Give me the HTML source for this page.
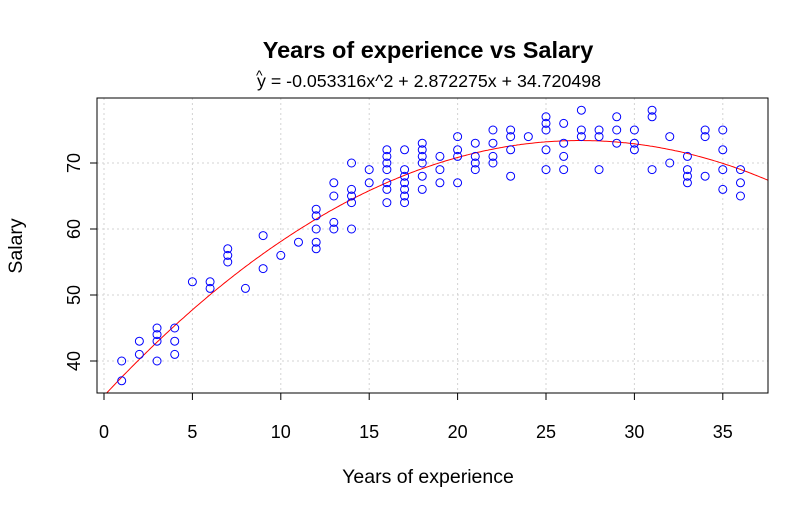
<!DOCTYPE html>
<html><head><meta charset="utf-8"><style>
body{margin:0;background:#fff;}
svg{display:block;font-family:"Liberation Sans",Arial,sans-serif;}
</style></head><body>
<svg id="chart" width="812" height="515" viewBox="0 0 812 515">
<rect width="812" height="515" fill="#fff"/>
<text x="428" y="58" text-anchor="middle" font-size="23.5" font-weight="bold">Years of experience vs Salary</text>
<text x="429" y="87" text-anchor="middle" font-size="17.8">y = -0.053316x^2 + 2.872275x + 34.720498</text>
<text x="256" y="80" font-size="14">^</text>
<g id="grid"></g><g id="curve"></g><g id="points"></g><g id="axes"></g>
<text x="428" y="483" text-anchor="middle" font-size="19.5">Years of experience</text>
<text transform="translate(22,246) rotate(-90)" text-anchor="middle" font-size="19.5">Salary</text>
<rect x="97" y="98" width="671" height="295" fill="none" stroke="#000" stroke-width="1"/>
</svg>
<script>
const xs=[1,1,2,2,3,3,3,3,4,4,4,5,6,6,7,7,7,8,9,9,10,11,12,12,12,12,12,13,13,13,13,14,14,14,14,14,15,15,16,16,16,16,16,16,16,17,17,17,17,17,17,17,18,18,18,18,18,18,19,19,19,20,20,20,20,21,21,21,21,22,22,22,22,23,23,23,23,24,25,25,25,25,25,26,26,26,26,27,27,27,28,28,28,29,29,29,30,30,30,31,31,31,32,32,33,33,33,33,34,34,34,35,35,35,35,36,36,36];
const ys=[40,37,43,41,45,44,43,40,45,43,41,52,52,51,57,56,55,51,59,54,56,58,63,62,60,58,57,67,65,61,60,70,66,65,64,60,69,67,72,71,70,69,67,66,64,72,69,68,67,66,65,64,73,72,71,70,68,66,71,69,67,74,72,71,67,73,71,70,69,75,73,71,70,75,74,72,68,74,77,76,75,72,69,76,73,71,69,78,75,74,75,74,69,77,75,73,75,73,72,78,77,69,74,70,71,69,68,67,75,74,68,75,72,69,66,69,67,65];
const coef=[-0.053316,2.872275,34.720498];
const xTicks=[0,5,10,15,20,25,30,35];
const yTicks=[40,50,60,70];
const L=97,R=768,T=98,B=393;
const sx=x=>104+x*17.68, sy=y=>361-(y-40)*6.6;
const NS="http://www.w3.org/2000/svg";
function mk(t,a,p){const e=document.createElementNS(NS,t);for(const k in a)e.setAttribute(k,a[k]);p.appendChild(e);return e;}
const grid=document.getElementById('grid'),axes=document.getElementById('axes');
xTicks.forEach(v=>{
 const g=mk('line',{x1:sx(v),x2:sx(v),y1:T,y2:B,stroke:'#d3d3d3','stroke-dasharray':'2,3'},grid);
 
 const t=mk('line',{x1:sx(v),x2:sx(v),y1:B,y2:B+7,stroke:'#000'},axes);
 
 const l=mk('text',{x:sx(v),y:438,'text-anchor':'middle','font-size':'18'},axes);l.textContent=v;
 
});
yTicks.forEach(v=>{
 const g=mk('line',{x1:L,x2:R,y1:sy(v),y2:sy(v),stroke:'#d3d3d3','stroke-dasharray':'2,3'},grid);
 
 const t=mk('line',{x1:L-7,x2:L,y1:sy(v),y2:sy(v),stroke:'#000'},axes);
 
 const l=mk('text',{transform:`translate(80,${sy(v)}) rotate(-90)`,'text-anchor':'middle','font-size':'18'},axes);l.textContent=v;
 
});
let d='';
for(let x=-0.5;x<=38;x+=0.1){const y=coef[0]*x*x+coef[1]*x+coef[2];d+=(d?'L':'M')+sx(x).toFixed(1)+','+sy(y).toFixed(1);}
const cp=mk('clipPath',{id:'clip'},document.getElementById('chart'));mk('rect',{x:L,y:T,width:R-L,height:B-T},cp);
const c=mk('path',{d:d,fill:'none',stroke:'#ff0000','stroke-width':'1','clip-path':'url(#clip)'},document.getElementById('curve'));

const pts=document.getElementById('points');
xs.forEach((x,i)=>{const p=mk('circle',{cx:sx(x),cy:sy(ys[i]),r:4,fill:'none',stroke:'#0000ff','stroke-width':'1'},pts);
 });
</script>
</body></html>
